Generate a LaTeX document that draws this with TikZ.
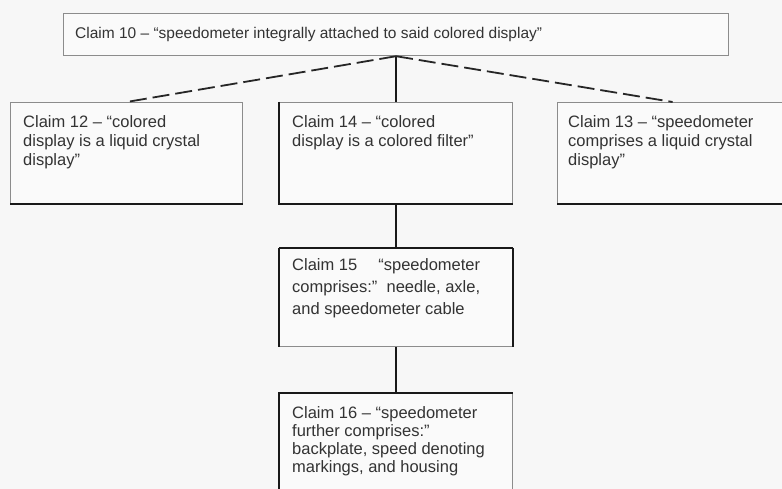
\documentclass[tikz,border=0pt]{standalone}
\usepackage{fontspec}
\setmainfont{Liberation Sans}
\usetikzlibrary{calc}
\begin{document}
\begin{tikzpicture}[x=1pt,y=-1pt,
  box/.style={draw=black!45, line width=1.2pt, fill=black!2, rectangle, inner sep=0pt, anchor=north west},
  darkedge/.style={draw=black!90, line width=2.4pt},
  txt/.style={anchor=north west, align=left, inner sep=0pt, text=black!80,
              font=\fontsize{16.5}{19}\selectfont},
  solidlink/.style={draw=black!90, line width=1.8pt},
  dashlink/.style={draw=black!85, line width=1.8pt, dash pattern=on 17pt off 6pt}]
\useasboundingbox (0,0) rectangle (782,489);
\fill[black!3] (0,0) rectangle (782,489);

% boxes
\node[box, minimum width=665pt, minimum height=42pt] (c10) at (63,13) {};
\node[box, minimum width=232pt, minimum height=101pt] (c12) at (10,102) {};
\node[box, minimum width=233pt, minimum height=101pt] (c14) at (279,102) {};
\node[box, minimum width=230pt, minimum height=101pt] (c13) at (557,102) {};
\node[box, minimum width=233pt, minimum height=98pt] (c15) at (279,248) {};
\node[box, minimum width=233pt, minimum height=110pt] (c16) at (279,393) {};

% darker edges of the scanned boxes
\draw[darkedge] (c12.south west) -- (c12.south east);
\draw[darkedge] (c14.north west) -- (c14.south west) -- (c14.south east);
\draw[darkedge] (c13.south west) -- (c13.south east);
\draw[darkedge] (c15.north west) -- (c15.south west);
\draw[darkedge] (c15.north east) -- (c15.south east);
\draw[darkedge] (c15.north west) -- (c15.north east);
\draw[darkedge] (c16.south west) -- (c16.north west) -- (c16.north east);

% texts
\node[txt, anchor=west, font=\fontsize{15.5}{18}\selectfont] (t10) at ($(c10.west)+(12,0)$)
  {Claim 10 – “speedometer integrally attached to said colored display”};
\node[txt] (t12) at ($(c12.north west)+(13,13)$)
  {Claim 12 – “colored\\display is a liquid crystal\\display”};
\node[txt] (t14) at ($(c14.north west)+(13,13)$)
  {Claim 14 – “colored\\display is a colored filter”};
\node[txt] (t13) at ($(c13.north west)+(11,13)$)
  {Claim 13 – “speedometer\\comprises a liquid crystal\\display”};
\node[txt, font=\fontsize{16.5}{22}\selectfont] (t15) at ($(c15.north west)+(13,10)$)
  {Claim 15 \quad “speedometer\\comprises:”\ \ needle, axle,\\and speedometer cable};
\node[txt, font=\fontsize{16.5}{18}\selectfont] (t16) at ($(c16.north west)+(13,13)$)
  {Claim 16 – “speedometer\\further comprises:”\\backplate, speed denoting\\markings, and housing};

% connectors
\draw[solidlink] (c10.south) -- (c14.north);
\draw[dashlink] (c10.south) -- (c12.north);
\draw[dashlink] (c10.south) -- (c13.north);
\draw[solidlink] (c14.south) -- (c15.north);
\draw[solidlink] (c15.south) -- (c16.north);
\end{tikzpicture}
\end{document}
